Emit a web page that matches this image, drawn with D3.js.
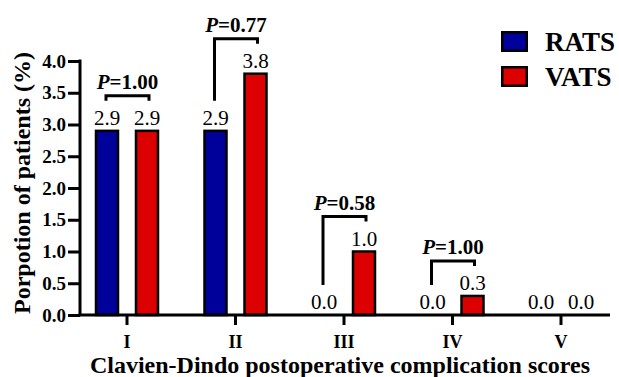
<!DOCTYPE html>
<html><head><meta charset="utf-8">
<script src="https://cdn.jsdelivr.net/npm/d3@7"></script>
<style>
html,body{margin:0;padding:0;background:#fff;}
text{font-family:"Liberation Serif","Times New Roman",serif;}
</style></head>
<body><svg id="c" width="619" height="377"></svg>
<script>
const categories = ["I", "II", "III", "IV", "V"];
const seriesNames = ["RATS", "VATS"];
const ratsValues = [2.9, 2.9, 0.0, 0.0, 0.0];
const vatsValues = [2.9, 3.8, 1.0, 0.3, 0.0];
const pValues = ["1.00", "0.77", "0.58", "1.00", null];
const yTickValues = [0, 0.5, 1.0, 1.5, 2.0, 2.5, 3.0, 3.5, 4.0];
const colors = ["#00009a", "#dc0000"];

const svg = d3.select("#c");
const x0 = d3.scaleBand().domain(categories).range([72.75, 615.25]).padding(0);
const x1 = d3.scaleBand().domain(seriesNames).range([-40, 40]).padding(0);
const y = d3.scaleLinear().domain([0, 4]).range([315, 61]);
const barW = 22;
const cx = (cat, s) => x0(cat) + x0.bandwidth() / 2 + x1(s) + x1.bandwidth() / 2;

const data = [];
categories.forEach((c, i) => {
  data.push({cat: c, s: "RATS", v: ratsValues[i], idx: 0});
  data.push({cat: c, s: "VATS", v: vatsValues[i], idx: 1});
});

// bars
svg.append("g").selectAll("rect").data(data.filter(d => d.v > 0)).join("rect")
  .attr("x", d => cx(d.cat, d.s) - barW / 2)
  .attr("y", d => y(d.v))
  .attr("width", barW)
  .attr("height", d => y(0) - y(d.v))
  .attr("fill", d => colors[d.idx])
  .attr("stroke", "#000").attr("stroke-width", 2.5);

// value labels
svg.append("g").selectAll("text").data(data).join("text")
  .attr("x", d => cx(d.cat, d.s))
  .attr("y", d => y(d.v) - 6)
  .attr("text-anchor", "middle")
  .attr("font-size", 21)
  .text(d => d3.format(".1f")(d.v));

// y axis
const yAxis = svg.append("g").attr("transform", "translate(80,0)")
  .call(d3.axisLeft(y).tickValues(yTickValues).tickFormat(d3.format(".1f")).tickSize(12).tickSizeOuter(0).tickPadding(2));
yAxis.select(".domain").attr("stroke-width", 3).attr("d", "M0," + (y(4) - 1.5) + "V" + y(0));
yAxis.selectAll(".tick line").attr("stroke-width", 3);
yAxis.selectAll(".tick text").attr("font-size", 19).attr("font-weight", "bold")
  .attr("font-family", "'Liberation Serif','Times New Roman',serif").attr("fill", "#000");

// x axis
const xAxis = svg.append("g").attr("transform", "translate(0," + y(0) + ")")
  .call(d3.axisBottom(x0).tickSize(10).tickSizeOuter(0).tickPadding(10));
xAxis.select(".domain").attr("stroke-width", 3).attr("d", "M78.5,0H610");
xAxis.selectAll(".tick line").attr("stroke-width", 3);
xAxis.selectAll(".tick text").attr("font-size", 18).attr("font-weight", "bold")
  .attr("font-family", "'Liberation Serif','Times New Roman',serif").attr("fill", "#000");

// brackets
const brackets = categories.map((c, i) => ({cat: c, p: pValues[i], a: ratsValues[i], b: vatsValues[i]})).filter(d => d.p);
const bg = svg.append("g");
brackets.forEach(d => {
  const xl = cx(d.cat, "RATS") - 1, xr = cx(d.cat, "VATS") + 2;
  const yl = y(d.a) - 30, yr = y(d.b) - 30;
  const top = Math.min(yl, yr) - 5;
  bg.append("path")
    .attr("d", `M${xl},${yl}V${top}H${xr}V${yr}`)
    .attr("fill", "none").attr("stroke", "#000").attr("stroke-width", 3);
  const t = bg.append("text")
    .attr("x", (xl + xr) / 2).attr("y", top - 7)
    .attr("text-anchor", "middle").attr("font-size", 21).attr("font-weight", "bold");
  t.append("tspan").attr("font-style", "italic").text("P");
  t.append("tspan").text("=" + d.p);
});

// legend
const lg = svg.append("g");
seriesNames.forEach((s, i) => {
  lg.append("rect").attr("x", 502.25).attr("y", 32.25 + i * 35).attr("width", 24.5).attr("height", 18.5)
    .attr("fill", colors[i]).attr("stroke", "#000").attr("stroke-width", 2.5);
  lg.append("text").attr("x", 545).attr("y", 51 + i * 35)
    .attr("font-size", 27).attr("font-weight", "bold").text(s);
});

// axis titles
svg.append("text").attr("x", 340).attr("y", 373).attr("text-anchor", "middle")
  .attr("font-size", 24).attr("font-weight", "bold")
  .text("Clavien-Dindo postoperative complication scores");
svg.append("text").attr("transform", "translate(30,183) rotate(-90)").attr("text-anchor", "middle")
  .attr("font-size", 24).attr("font-weight", "bold")
  .text("Porpotion of patients (%)");
</script></body></html>
